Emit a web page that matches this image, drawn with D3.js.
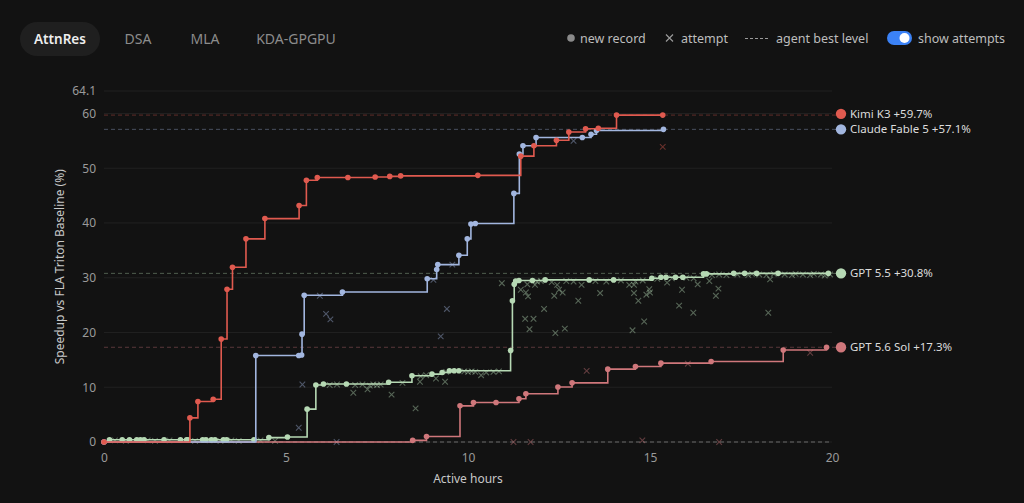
<!DOCTYPE html>
<html>
<head>
<meta charset="utf-8">
<script src="https://cdn.jsdelivr.net/npm/d3@7"></script>
<style>
  body { margin: 0; background: #121212; font-family: "Noto Sans", sans-serif; }
  svg { display: block; }
</style>
</head>
<body>
<svg id="chart" width="1024" height="503"></svg>
<script>
// tabs + legend
const tabs = ["AttnRes", "DSA", "MLA", "KDA-GPGPU"];
const yTicks = [0, 10, 20, 30, 40, 50, 60, 64.1];
const xTicks = [0, 5, 10, 15, 20];

// series: [hours, speedup %]
const kimiRecords = [[0,0],[2.36,4.4],[2.58,7.4],[3.0,7.8],[3.22,18.8],[3.38,27.9],[3.53,31.9],[3.9,37.1],[4.42,40.8],[5.36,43.2],[5.56,47.8],[5.86,48.3],[6.7,48.3],[7.45,48.4],[7.85,48.5],[8.15,48.6],[10.27,48.7],[11.45,52.2],[11.81,54.1],[12.43,55.1],[12.77,56.6],[13.23,57.2],[13.58,57.3],[14.08,59.7],[15.35,59.7]];
const kimiAttempts = [[15.35,53.9]];

const claudeRecords = [[0,0],[4.17,15.8],[5.35,15.8],[5.43,15.9],[5.44,19.7],[5.5,26.8],[6.55,27.4],[8.88,29.8],[9.14,31.5],[9.17,32.4],[9.75,34.1],[9.98,37.1],[10.08,39.8],[10.2,39.9],[11.26,45.4],[11.41,52.6],[11.51,54.1],[11.87,55.6],[13.14,55.6],[13.38,56.2],[13.53,56.9],[15.37,57.1]];
const claudeAttempts = [[5.35,2.6],[5.45,10.5],[5.93,26.7],[6.1,23.4],[6.22,22.4],[9.05,29.6],[9.25,19.3],[9.42,24.3],[9.57,32.4],[12.9,55.0],[6.39,0]];

const gpt55Records = [[0.15,0.4],[0.5,0.4],[0.7,0.4],[0.9,0.4],[1.0,0.4],[1.1,0.4],[1.65,0.4],[2.1,0.4],[2.27,0.4],[2.3,0.4],[2.71,0.4],[2.8,0.4],[2.95,0.4],[3.05,0.4],[3.28,0.4],[3.37,0.4],[4.12,0.4],[4.53,0.8],[5.04,0.9],[5.58,6.0],[5.82,10.4],[6.03,10.6],[6.66,10.6],[7.82,10.9],[8.46,12.1],[9.01,12.4],[9.29,12.7],[9.49,13.0],[9.62,13.0],[9.75,13.0],[11.17,16.7],[11.22,25.8],[11.27,28.8],[11.31,29.4],[11.4,29.5],[11.77,29.5],[12.12,29.6],[13.33,29.6],[14.0,29.6],[15.05,29.9],[15.3,30.1],[15.44,30.1],[15.7,30.1],[15.9,30.1],[16.47,30.7],[16.55,30.7],[17.3,30.8],[17.6,30.8],[17.93,30.8],[18.52,30.8],[19.9,30.8]];
const gpt55Attempts = [
  [0.3,0.3],[0.6,0.2],[1.2,0.3],[1.4,0.2],[1.8,0.3],[2.5,0.2],[2.9,0.3],[3.2,0.2],[3.5,0.3],[3.7,0.2],[4.3,0.3],[4.7,0.2],
  [6.85,9.0],[7.24,9.6],[7.9,8.65],[8.56,6.15],[8.68,11.0],[9.12,11.6],[9.37,11.0],
  [6.2,10.4],[6.4,10.5],[6.9,10.4],[7.1,10.5],[7.3,10.3],[7.4,10.5],[7.5,10.4],[7.6,10.5],[8.2,10.8],
  [8.7,12.0],[8.85,12.2],[9.4,12.8],[9.9,12.9],[10.0,12.8],[10.1,12.9],[10.2,12.8],[10.36,12.2],[10.5,12.7],[10.7,12.8],[10.85,12.9],
  [10.93,29.0],[11.45,27.8],[11.59,27.3],[11.65,26.6],[11.63,28.8],[11.84,28.7],[11.57,22.5],[11.8,22.5],[11.69,20.6],[12.09,24.3],[12.4,19.9],[12.37,26.7],[12.45,28.7],[12.5,27.8],[12.6,27.3],[13.12,28.7],[13.03,25.8],[13.63,27.2],[14.43,28.7],[14.56,28.7],[14.56,27.2],[14.68,25.8],[14.52,20.4],[14.84,22.0],[14.98,27.9],[15.0,27.3],[14.9,26.9],[15.47,29.1],[15.88,27.8],[15.8,24.9],[16.19,23.6],[16.31,28.8],[16.63,29.4],[16.88,28.0],[16.81,26.7],[18.25,23.6],[18.3,29.7],[12.66,20.7],
  [11.9,29.3],[12.0,29.4],[12.3,29.2],[12.7,29.4],[12.9,29.3],[13.5,29.4],[13.8,29.3],[14.2,29.5],[14.6,29.3],[14.8,29.5],[15.2,29.8],[15.6,29.9],[16.0,30.0],[16.2,29.9],
  [16.7,30.5],[16.9,30.6],[17.1,30.5],[17.4,30.6],[17.7,30.5],[17.8,30.7],[18.0,30.6],[18.2,30.5],[18.4,30.7],[18.7,30.6],[18.9,30.5],[19.0,30.7],[19.2,30.6],[19.4,30.5],[19.5,30.7],[19.7,30.6],[19.8,30.4],[19.95,30.6]
];

const sol56Records = [[0,0],[8.48,0.3],[8.86,1.0],[9.78,6.6],[10.15,7.2],[10.77,7.2],[11.4,7.9],[11.59,8.8],[12.47,10.05],[12.86,10.8],[13.84,13.3],[14.6,13.8],[15.3,14.4],[16.68,14.7],[18.66,16.8],[19.85,17.3]];
const sol56Attempts = [[19.4,16.3],[16.04,14.3],[13.26,13.0],[11.25,0],[11.72,0],[14.79,0.3],[16.9,0]];

const seriesNames = ["GPT 5.6 Sol", "GPT 5.5", "Claude Fable 5", "Kimi K3"];
const seriesBest = [17.3, 30.8, 57.1, 59.7];
const seriesColors = ["#cf777b", "#b6d9b4", "#a2b6df", "#e05a4f"];
const seriesRecords = [sol56Records, gpt55Records, claudeRecords, kimiRecords];
const seriesAttempts = [sol56Attempts, gpt55Attempts, claudeAttempts, kimiAttempts];

const svg = d3.select("#chart");
const W = 1024, H = 503;
const margin = {left: 104, right: 192, top: 91, bottom: 61};

const x = d3.scaleLinear().domain([0, 20]).range([margin.left, W - margin.right]);
const y = d3.scaleLinear().domain([0, 64.1]).range([H - margin.bottom, margin.top]);

svg.append("rect").attr("width", W).attr("height", H).attr("fill", "#121212");

// tabs
const tabX = [60, 138, 205, 296];
svg.append("rect")
    .attr("x", 20).attr("y", 22).attr("width", 80).attr("height", 34).attr("rx", 17)
    .attr("fill", "#1f1f1f");
svg.selectAll(".tab")
    .data(tabs)
    .join("text")
    .attr("class", "tab")
    .attr("x", (d, i) => tabX[i])
    .attr("y", 44)
    .attr("text-anchor", "middle")
    .attr("font-size", (d, i) => i === 0 ? 13.5 : 14)
    .attr("font-weight", (d, i) => i === 0 ? 600 : 400)
    .attr("fill", (d, i) => i === 0 ? "#eeeeee" : "#8c8c8c")
    .text(d => d);

// legend at top right
const lg = svg.append("g").attr("font-size", 12.5).attr("fill", "#bdbdbd");
lg.append("circle").attr("cx", 571).attr("cy", 38).attr("r", 3.8).attr("fill", "#8a8a8a");
lg.append("text").attr("x", 580).attr("y", 42.5).text("new record");
lg.append("path").attr("d", "M666,34.5l7,7M673,34.5l-7,7").attr("stroke", "#9a9a9a").attr("stroke-width", 1.2);
lg.append("text").attr("x", 681).attr("y", 42.5).text("attempt");
lg.append("line").attr("x1", 745).attr("x2", 770).attr("y1", 38.5).attr("y2", 38.5)
    .attr("stroke", "#9a9a9a").attr("stroke-dasharray", "3,2");
lg.append("text").attr("x", 776).attr("y", 42.5).text("agent best level");
lg.append("rect").attr("x", 887).attr("y", 31).attr("width", 25).attr("height", 14).attr("rx", 7).attr("fill", "#3b82f6");
lg.append("circle").attr("cx", 904.5).attr("cy", 38).attr("r", 5).attr("fill", "#ffffff");
lg.append("text").attr("x", 918).attr("y", 42.5).text("show attempts");

// grid + y axis labels
svg.append("g")
    .selectAll("line")
    .data(yTicks)
    .join("line")
    .attr("x1", margin.left).attr("x2", W - margin.right)
    .attr("y1", d => y(d)).attr("y2", d => y(d))
    .attr("stroke", "#212121");

const yAxis = svg.append("g")
    .attr("transform", `translate(${margin.left - 8},0)`)
    .call(d3.axisLeft(y).tickValues(yTicks).tickSize(0).tickPadding(0).tickFormat(d => d === 64.1 ? "64.1" : d3.format("d")(d)));
yAxis.select(".domain").remove();
yAxis.selectAll("text").attr("fill", "#9a9a9a").attr("font-size", 12).attr("font-family", "Noto Sans");

const xAxis = svg.append("g")
    .attr("transform", `translate(0,${H - margin.bottom + 7})`)
    .call(d3.axisBottom(x).tickValues(xTicks).tickSize(0).tickPadding(4));
xAxis.select(".domain").remove();
xAxis.selectAll("text").attr("fill", "#9a9a9a").attr("font-size", 12).attr("font-family", "Noto Sans");

svg.append("text")
    .attr("x", x(10)).attr("y", 483)
    .attr("text-anchor", "middle").attr("font-size", 12).attr("fill", "#c8c8c8")
    .text("Active hours");
svg.append("text")
    .attr("transform", `translate(64,${y(32)}) rotate(-90)`)
    .attr("text-anchor", "middle").attr("font-size", 12).attr("fill", "#c8c8c8")
    .text("Speedup vs FLA Triton Baseline (%)");

// best-level dashed lines
svg.append("line")
    .attr("x1", margin.left).attr("x2", W - margin.right)
    .attr("y1", y(0)).attr("y2", y(0))
    .attr("stroke", "#6a6a6a").attr("stroke-dasharray", "4,3");
svg.append("g")
    .selectAll("line")
    .data(seriesBest)
    .join("line")
    .attr("x1", margin.left).attr("x2", W - margin.right + 4)
    .attr("y1", d => y(d)).attr("y2", d => y(d))
    .attr("stroke", (d, i) => seriesColors[i])
    .attr("stroke-opacity", 0.38)
    .attr("stroke-dasharray", "4,3");

const line = d3.line()
    .x(d => x(d[0]))
    .y(d => y(d[1]))
    .curve(d3.curveStepAfter);

// attempts first, then record lines on top
seriesAttempts.forEach(function(att, i) {
    svg.append("g")
        .selectAll("path")
        .data(att)
        .join("path")
        .attr("d", d => `M${x(d[0]) - 2.8},${y(d[1]) - 2.8}l5.6,5.6M${x(d[0]) + 2.8},${y(d[1]) - 2.8}l-5.6,5.6`)
        .attr("stroke", seriesColors[i])
        .attr("stroke-opacity", 0.42)
        .attr("stroke-width", 1.1)
        .attr("fill", "none");
});

seriesRecords.forEach(function(rec, i) {
    const g = svg.append("g");
    g.append("path")
        .datum(rec)
        .attr("d", line)
        .attr("fill", "none")
        .attr("stroke", seriesColors[i])
        .attr("stroke-width", 1.6);
    g.selectAll("circle")
        .data(rec)
        .join("circle")
        .attr("cx", d => x(d[0]))
        .attr("cy", d => y(d[1]))
        .attr("r", 2.8)
        .attr("fill", seriesColors[i]);
});

// end labels, nudged apart so they don't collide
const labelY = seriesBest.map(d => y(d));
labelY[3] = Math.min(labelY[3], labelY[2] - 15.5);
const labels = svg.append("g");
seriesNames.forEach(function(name, i) {
    labels.append("circle")
        .attr("cx", 841).attr("cy", labelY[i])
        .attr("r", 5.2).attr("fill", seriesColors[i]);
    labels.append("text")
        .attr("x", 850).attr("y", labelY[i] + 4)
        .attr("font-size", 11.5).attr("fill", "#dcdcdc")
        .text(`${name} +${seriesBest[i].toFixed(1)}%`);
});
</script>
</body>
</html>
